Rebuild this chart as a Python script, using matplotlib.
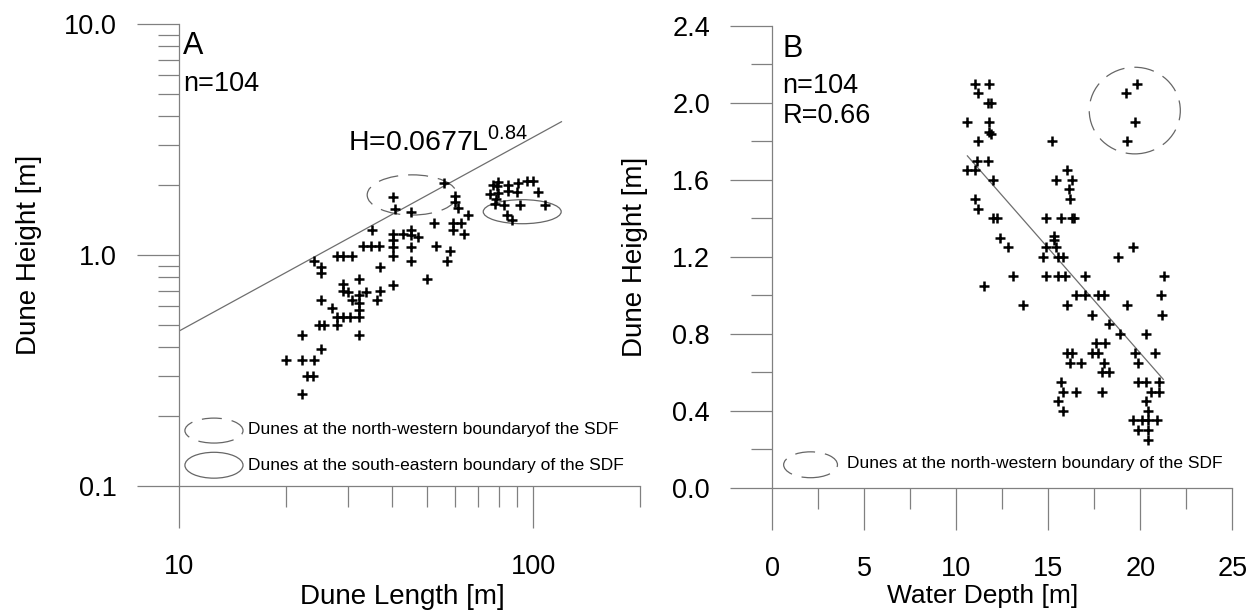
import matplotlib
matplotlib.use("Agg")
import numpy as np
import matplotlib.pyplot as plt
from matplotlib.patches import Ellipse
from matplotlib.ticker import FixedLocator, FixedFormatter, NullFormatter

plt.rcParams['font.family'] = ['Liberation Sans', 'DejaVu Sans']
plt.rcParams['mathtext.fontset'] = 'custom'
plt.rcParams['mathtext.rm'] = 'Liberation Sans'

# panel A: dune length [m] vs dune height [m]
lengths_a = [56.1, 40.2, 60.2, 60.2, 61.4, 40.7, 45.2, 65.5, 52.5, 59.4,
             62.6, 59.4, 63.8, 35.1, 40.2, 42.9, 45.2, 47.3, 45.2, 40.2,
             33.1, 34.9, 36.7, 40.2, 45.2, 53.2, 58.3, 27.9, 29.1, 30.8,
             40.2, 24.1, 25.2, 25.2, 45.2, 57.1, 37.0, 32.2, 50.2, 40.2,
             29.1, 29.1, 30.0, 33.8, 37.0, 32.2, 30.8, 36.3, 25.2, 32.2,
             27.1, 32.2, 27.9, 29.1, 30.4, 32.2, 27.9, 24.9, 25.7, 22.3,
             32.2, 25.2, 20.0, 22.3, 24.1, 23.0, 23.9, 22.3,
             79.6, 77.1, 85.0, 90.7, 96.2, 100, 90.1, 85.0, 75.6, 79.6,
             103, 78.6, 78.1, 82.8, 91.9, 108, 84.5, 87.3, 79.1]
heights_a = [2.04, 1.79, 1.81, 1.70, 1.60, 1.58, 1.54, 1.49, 1.38, 1.38,
             1.38, 1.28, 1.23, 1.28, 1.23, 1.23, 1.28, 1.20, 1.22, 1.16,
             1.09, 1.09, 1.09, 1.08, 1.08, 1.09, 1.04, 0.99, 0.99, 0.99,
             0.99, 0.94, 0.89, 0.84, 0.94, 0.94, 0.89, 0.79, 0.79, 0.74,
             0.75, 0.70, 0.69, 0.69, 0.70, 0.67, 0.64, 0.64, 0.64, 0.62,
             0.59, 0.58, 0.54, 0.54, 0.54, 0.54, 0.50, 0.50, 0.50, 0.45,
             0.45, 0.39, 0.35, 0.35, 0.35, 0.30, 0.30, 0.25,
             2.08, 2.00, 2.00, 2.04, 2.10, 2.10, 1.88, 1.90, 1.84, 1.86,
             1.88, 1.75, 1.67, 1.65, 1.65, 1.65, 1.49, 1.42, 1.98]
fit_a_coef = 0.0677
fit_a_exp = 0.84
fit_a_range = [10, 120]

# panel B: water depth [m] vs dune height [m]
depths_b = [11.0, 11.8, 11.2, 11.7, 11.9, 10.6, 11.8, 11.8, 11.9, 11.2,
            15.2, 11.1, 11.7, 10.6, 11.0, 12.0, 11.0, 11.2, 12.0, 12.2,
            16.0, 15.4, 16.3, 16.1, 16.2, 14.9, 15.7, 16.3, 16.4, 19.8,
            19.2, 19.7, 19.3, 12.4, 12.8, 15.3, 15.3, 14.9, 15.4, 14.7,
            15.5, 15.8, 19.6, 18.8, 13.1, 14.9, 15.5, 15.9, 17.0, 21.3,
            11.5, 16.5, 17.0, 17.7, 18.0, 21.1, 13.6, 16.0, 19.3, 17.4,
            21.2, 18.3, 18.9, 20.3, 17.6, 18.1, 16.0, 16.3, 17.4, 17.7,
            19.7, 20.8, 16.2, 16.8, 18.0, 19.9, 17.9, 18.3, 15.7, 19.9,
            20.3, 21.0, 15.8, 16.5, 17.9, 20.6, 21.0, 15.5, 20.3, 15.8,
            20.4, 19.6, 20.1, 20.4, 20.9, 19.9, 20.4, 20.4]
heights_b = [2.10, 2.10, 2.05, 2.00, 2.00, 1.90, 1.90, 1.85, 1.84, 1.80,
             1.80, 1.70, 1.70, 1.65, 1.65, 1.60, 1.50, 1.45, 1.40, 1.40,
             1.65, 1.60, 1.60, 1.55, 1.50, 1.40, 1.40, 1.40, 1.40, 2.10,
             2.05, 1.90, 1.80, 1.30, 1.25, 1.31, 1.29, 1.25, 1.25, 1.20,
             1.20, 1.20, 1.25, 1.20, 1.10, 1.10, 1.10, 1.10, 1.10, 1.10,
             1.05, 1.00, 1.00, 1.00, 1.00, 1.00, 0.95, 0.95, 0.95, 0.90,
             0.90, 0.85, 0.80, 0.80, 0.75, 0.75, 0.70, 0.70, 0.70, 0.70,
             0.70, 0.70, 0.65, 0.65, 0.65, 0.65, 0.60, 0.60, 0.55, 0.55,
             0.55, 0.55, 0.50, 0.50, 0.50, 0.50, 0.50, 0.45, 0.45, 0.40,
             0.40, 0.35, 0.35, 0.35, 0.35, 0.30, 0.30, 0.25]
fit_b_intercept = 2.88
fit_b_slope = -0.109
fit_b_range = [10.6, 21.25]

# tick labels
a_xticks = [10, 100]
a_xticklabels = ["10", "100"]
a_yticks = [0.1, 1.0, 10.0]
a_yticklabels = ["0.1", "1.0", "10.0"]
b_xticks = [0, 5, 10, 15, 20, 25]
b_yticks = [0.0, 0.4, 0.8, 1.2, 1.6, 2.0, 2.4]

gray = "#808080"
legend_text = "Dunes at the {} boundary{}of the SDF"

fig = plt.figure(figsize=(12.6, 6.16), dpi=100)
axA = fig.add_axes([0.142, 0.211, 0.366, 0.750])
axB = fig.add_axes([0.613, 0.208, 0.365, 0.750])


def style(ax):
    for s in ["top", "right"]:
        ax.spines[s].set_visible(False)
    for s in ["left", "bottom"]:
        ax.spines[s].set_color(gray)
        ax.spines[s].set_linewidth(0.9)
    ax.tick_params(which="major", direction="out", length=30, width=0.9,
                   color=gray, labelsize=19.5, labelcolor="black")
    ax.tick_params(which="minor", direction="out", length=15, width=0.9, color=gray)
    ax.tick_params(axis="y", which="major", pad=15)
    ax.tick_params(axis="x", which="major", pad=19)


def ellipse(ax, cx, cy, w, h, dashed):
    e = Ellipse((cx, cy), w, h, transform=ax.transAxes, fill=False,
                edgecolor="#666666", linewidth=0.9,
                linestyle=(0, (16, 8)) if dashed else "-", clip_on=False)
    ax.add_patch(e)


def to_axes(ax, x, y):
    return ax.transAxes.inverted().transform(ax.transData.transform((x, y)))


# ---- panel A ----
axA.set_xscale("log")
axA.set_yscale("log")
axA.set_xlim(10, 200)
axA.set_ylim(0.1, 10)
style(axA)
axA.xaxis.set_major_locator(FixedLocator(a_xticks))
axA.xaxis.set_major_formatter(FixedFormatter(a_xticklabels))
axA.xaxis.set_minor_locator(FixedLocator([20, 30, 40, 50, 60, 70, 80, 90, 200]))
axA.xaxis.set_minor_formatter(NullFormatter())
axA.yaxis.set_major_locator(FixedLocator(a_yticks))
axA.yaxis.set_major_formatter(FixedFormatter(a_yticklabels))
axA.yaxis.set_minor_locator(FixedLocator([m * d for d in (0.1, 1.0) for m in range(2, 10)]))
axA.yaxis.set_minor_formatter(NullFormatter())

Lfit = np.logspace(np.log10(fit_a_range[0]), np.log10(fit_a_range[1]), 50)
axA.plot(Lfit, fit_a_coef * Lfit ** fit_a_exp, color="#6e6e6e", linewidth=0.9)
axA.plot(lengths_a, heights_a, linestyle="none", marker="+", color="black",
         markersize=7, markeredgewidth=1.8)

c = to_axes(axA, 45.5, 1.82)
ellipse(axA, c[0], c[1], 0.195, 0.087, True)
c = to_axes(axA, 93, 1.54)
ellipse(axA, c[0], c[1], 0.169, 0.052, False)

axA.text(0.008, 0.985, "A", transform=axA.transAxes, fontsize=22, va="top")
axA.text(0.010, 0.898, "n=104", transform=axA.transAxes, fontsize=19.5, va="top")
axA.text(0.367, 0.727, r"H=0.0677L$^{0.84}$", transform=axA.transAxes,
         fontsize=20.5, va="baseline")

ellipse(axA, 0.076, 0.120, 0.126, 0.054, True)
ellipse(axA, 0.076, 0.045, 0.126, 0.056, False)
axA.text(0.150, 0.123, legend_text.format("north-western", ""),
         transform=axA.transAxes, fontsize=12.5, va="center")
axA.text(0.150, 0.045, legend_text.format("south-eastern", " "),
         transform=axA.transAxes, fontsize=12.5, va="center")

axA.set_xlabel("Dune Length [m]", fontsize=20)
axA.set_ylabel("Dune Height [m]", fontsize=20)
axA.xaxis.set_label_coords(0.484, -0.212)
axA.yaxis.set_label_coords(-0.297, 0.5)

# ---- panel B ----
axB.set_xlim(0, 25)
axB.set_ylim(0, 2.4)
style(axB)
axB.set_xticks(b_xticks)
axB.set_xticklabels([str(v) for v in b_xticks])
axB.set_xticks(np.arange(2.5, 25, 5), minor=True)
axB.set_yticks(b_yticks)
axB.set_yticklabels(["%.1f" % v for v in b_yticks])
axB.set_yticks(np.arange(0.2, 2.4, 0.4), minor=True)

d = np.array(fit_b_range)
axB.plot(d, fit_b_intercept + fit_b_slope * d, color="#6e6e6e", linewidth=0.9)
axB.plot(depths_b, heights_b, linestyle="none", marker="+", color="black",
         markersize=7, markeredgewidth=1.8)

axB.add_patch(Ellipse((19.7, 1.96), 4.95, 0.45, fill=False, edgecolor="#666666",
                      linewidth=0.9, linestyle=(0, (16, 8))))

axB.text(0.022, 0.982, "B", transform=axB.transAxes, fontsize=22, va="top")
axB.text(0.022, 0.898, "n=104", transform=axB.transAxes, fontsize=19.5, va="top")
axB.text(0.022, 0.832, "R=0.66", transform=axB.transAxes, fontsize=19.5, va="top")

ellipse(axB, 0.083, 0.050, 0.117, 0.056, True)
axB.text(0.163, 0.052, legend_text.format("north-western", " "),
         transform=axB.transAxes, fontsize=12.5, va="center")

axB.set_xlabel("Water Depth [m]", fontsize=19)
axB.set_ylabel("Dune Height [m]", fontsize=20)
axB.xaxis.set_label_coords(0.457, -0.209)
axB.yaxis.set_label_coords(-0.270, 0.5)

fig.savefig("out.png", dpi=100)
